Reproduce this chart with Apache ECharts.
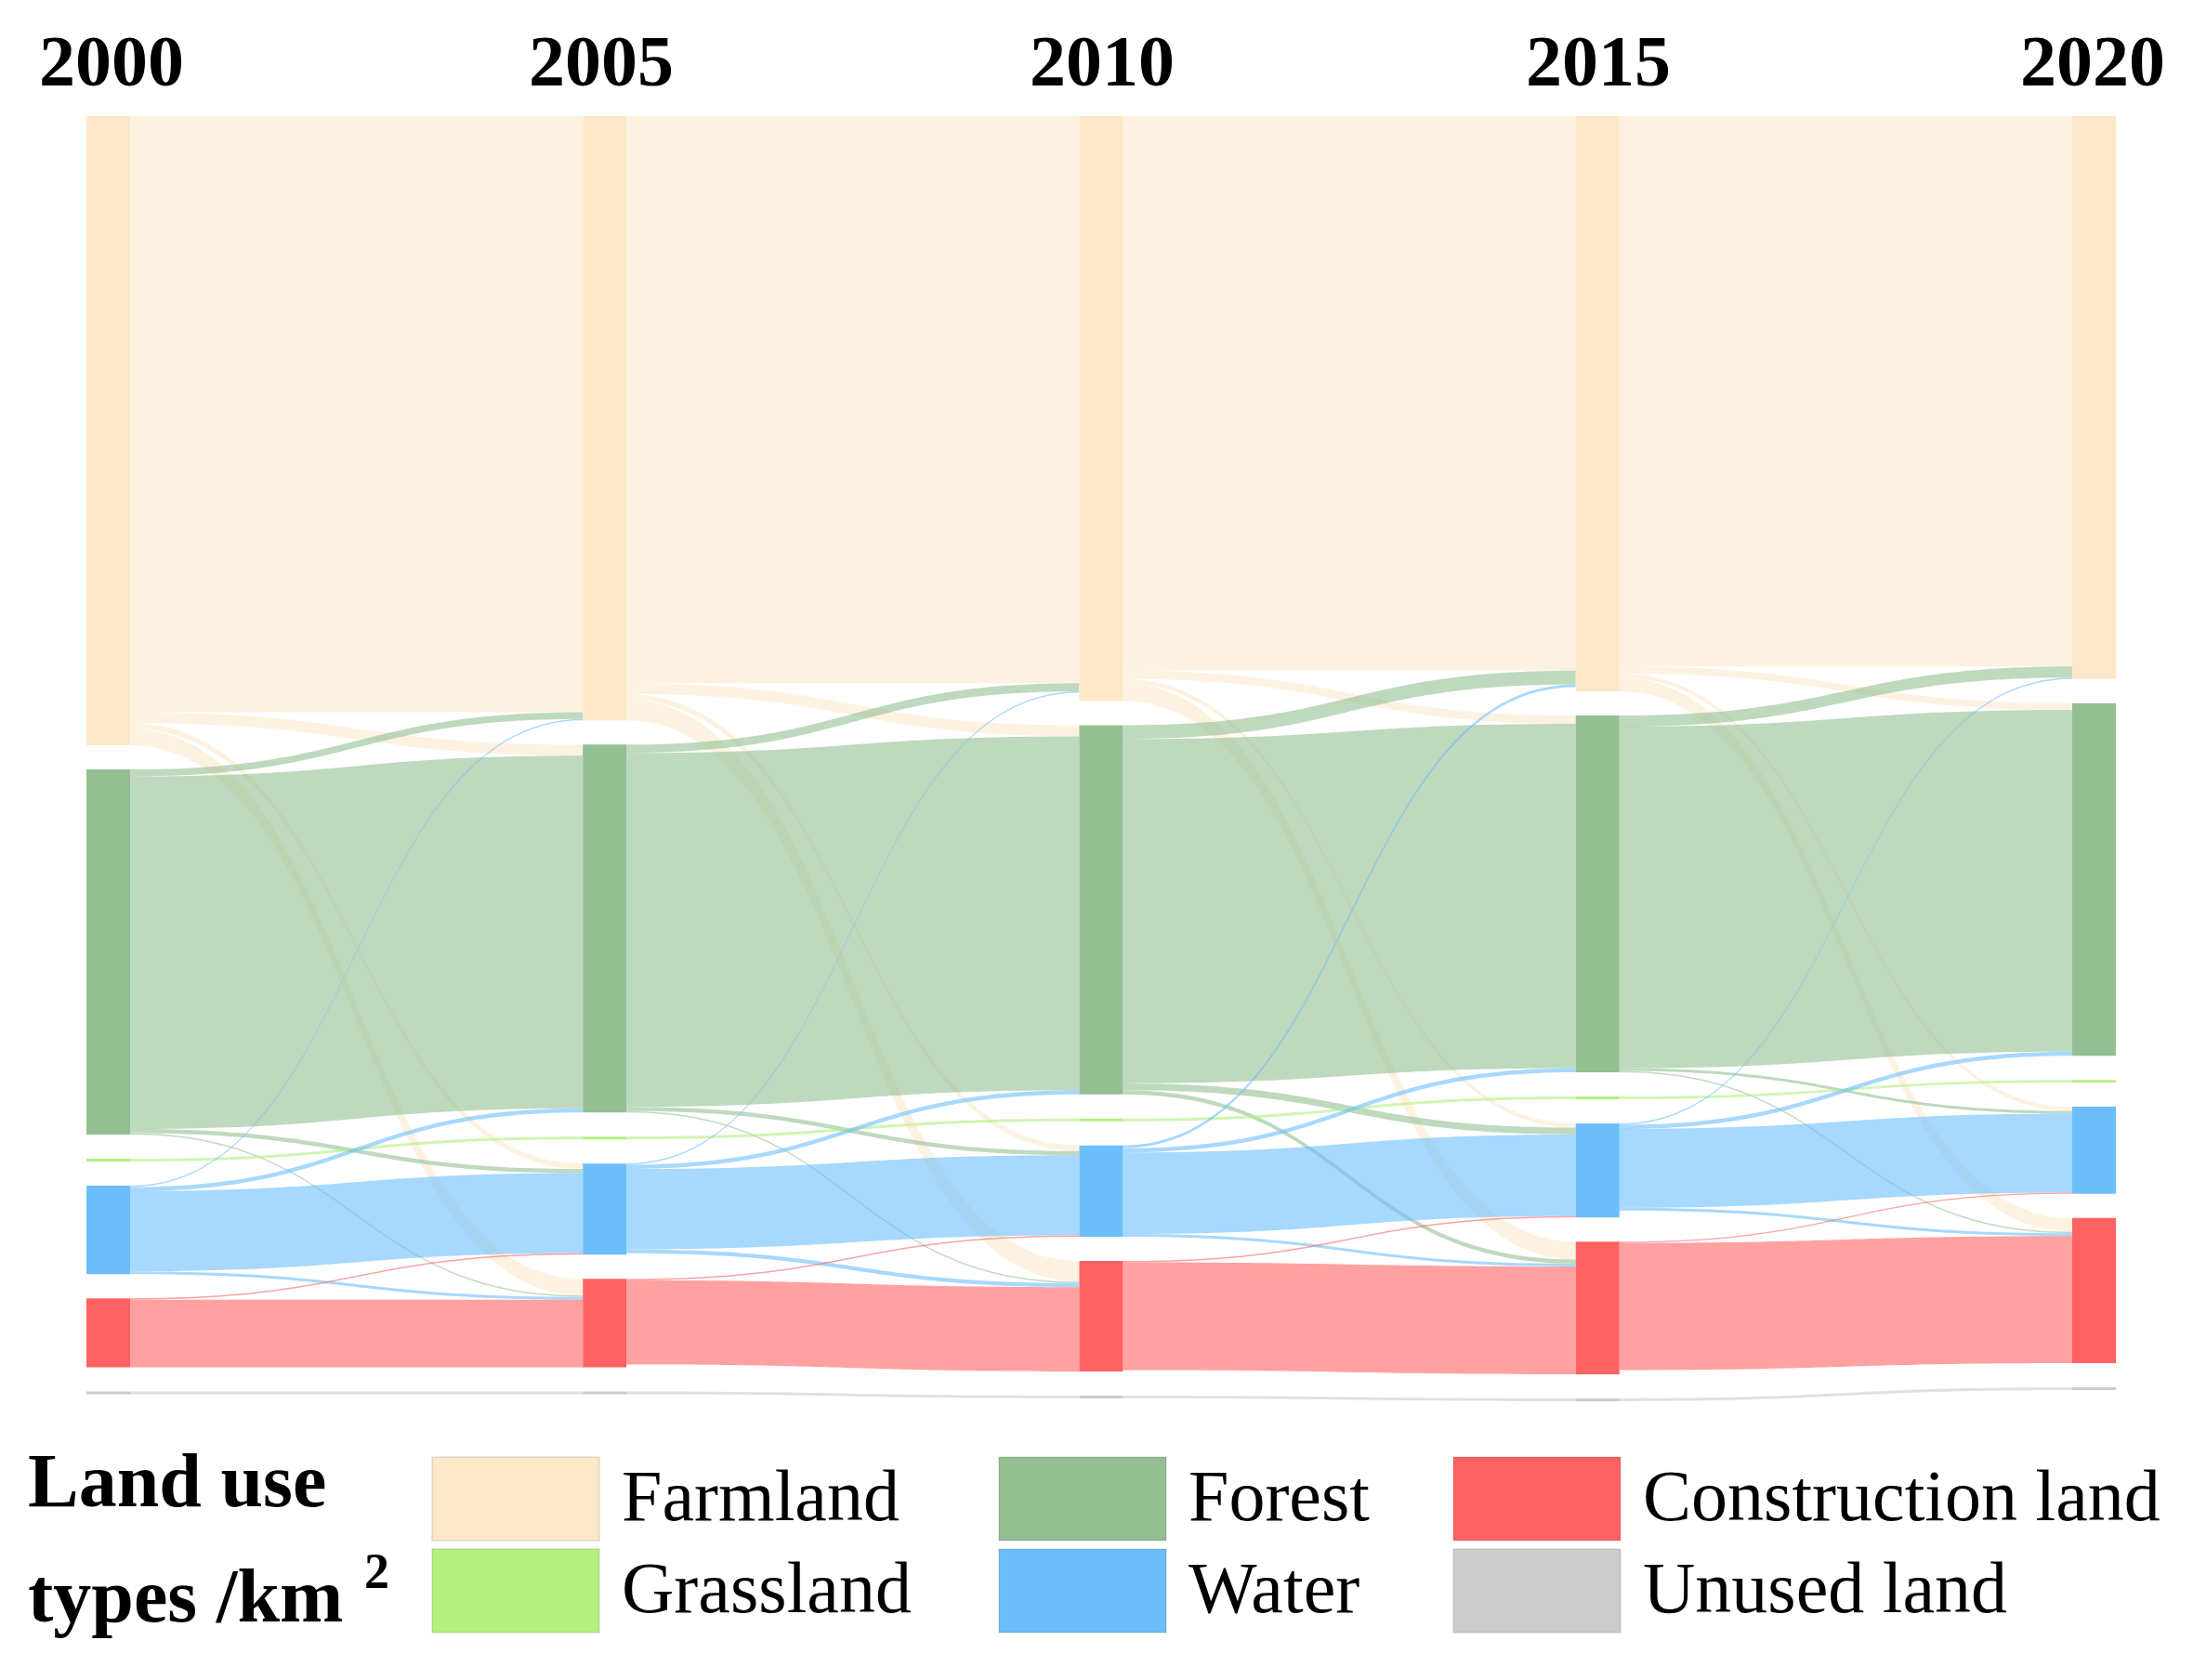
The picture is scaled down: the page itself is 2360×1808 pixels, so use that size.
<!DOCTYPE html>
<html><head><meta charset="utf-8">
<script src="https://cdn.jsdelivr.net/npm/echarts@6/dist/echarts.min.js"></script>
<style>html,body{margin:0;background:#fff}#c{width:2360px;height:1808px}</style>
</head><body><div id="c"></div>
<script>
const years = ['2000','2005','2010','2015','2020'];
const types = ['Farmland','Forest','Grassland','Water','Construction land','Unused land'];
const colors = ['#FCE8C8','#93BF93','#B3F07E','#6CBEFB','#FF6262','#CCCCCC'];
// transitions per period: [from, to, value]
const period1 = [['Farmland','Farmland',431],['Farmland','Forest',8],['Farmland','Water',4],['Farmland','Construction land',12],
 ['Forest','Forest',255],['Forest','Farmland',5],['Forest','Water',3],['Forest','Construction land',1],
 ['Grassland','Grassland',2],['Water','Water',58],['Water','Forest',3],['Water','Farmland',1],['Water','Construction land',2],
 ['Construction land','Construction land',49],['Construction land','Water',1],['Unused land','Unused land',2]];
const period2 = [['Farmland','Farmland',410],['Farmland','Forest',8],['Farmland','Water',4],['Farmland','Construction land',15],
 ['Forest','Forest',256],['Forest','Farmland',6],['Forest','Water',3],['Forest','Construction land',1],
 ['Grassland','Grassland',2],['Water','Water',58],['Water','Forest',3],['Water','Farmland',1],['Water','Construction land',3],
 ['Construction land','Construction land',61],['Construction land','Water',1],['Unused land','Unused land',2]];
const period3 = [['Farmland','Farmland',401],['Farmland','Forest',6],['Farmland','Water',3],['Farmland','Construction land',13],
 ['Forest','Forest',249],['Forest','Farmland',10],['Forest','Water',5],['Forest','Construction land',3],
 ['Grassland','Grassland',2],['Water','Water',59],['Water','Forest',3],['Water','Farmland',2],['Water','Construction land',2],
 ['Construction land','Construction land',78],['Construction land','Water',1],['Unused land','Unused land',2]];
const period4 = [['Farmland','Farmland',398],['Farmland','Forest',5],['Farmland','Water',3],['Farmland','Construction land',10],
 ['Forest','Forest',247],['Forest','Farmland',8],['Forest','Water',2],['Forest','Construction land',1],
 ['Grassland','Grassland',2],['Water','Water',57],['Water','Forest',3],['Water','Farmland',1],['Water','Construction land',2],
 ['Construction land','Construction land',92],['Construction land','Water',1],['Unused land','Unused land',2]];
const periods = [period1, period2, period3, period4];

const nodes = [];
years.forEach((y,yi)=>types.forEach((t,ti)=>nodes.push({name:t+' '+y,depth:yi,itemStyle:{color:colors[ti]}})));
const links = [];
periods.forEach((p,pi)=>p.forEach(([a,b,v])=>{
  const ti = types.indexOf(a);
  links.push({source:a+' '+years[pi],target:b+' '+years[pi+1],value:v,
    lineStyle:{color:colors[ti],opacity:a==='Farmland'?0.55:0.6}});
}));

const chart = echarts.init(document.getElementById('c'));
const serif = '"Liberation Serif","DejaVu Serif",serif';
const g = [];
const yx = [120,647,1186,1720,2252];
years.forEach((y,i)=>g.push({type:'text',x:yx[i],y:72,style:{text:y,font:'bold 78px '+serif,fill:'#000',align:'center',verticalAlign:'middle'}}));
g.push({type:'text',x:30,y:1600,style:{text:'Land use',font:'bold 82px '+serif,fill:'#000',verticalAlign:'middle'}});
g.push({type:'text',x:30,y:1724,style:{text:'types /km',font:'bold 82px '+serif,fill:'#000',verticalAlign:'middle'}});
g.push({type:'text',x:392,y:1695,style:{text:'2',font:'bold 54px '+serif,fill:'#000',verticalAlign:'middle'}});
const leg = [['Farmland',0,0,0],['Grassland',2,0,1],['Forest',1,1,0],['Water',3,1,1],['Construction land',4,2,0],['Unused land',5,2,1]];
const lx=[465,1075,1564], ly=[1568,1667];
leg.forEach(([n,ci,col,row])=>{
  g.push({type:'rect',shape:{x:lx[col],y:ly[row],width:180,height:90},style:{fill:colors[ci],stroke:'rgba(0,0,0,0.08)',lineWidth:2}});
  g.push({type:'text',x:lx[col]+204,y:ly[row]+48,style:{text:n,font:'78px '+serif,fill:'#000',verticalAlign:'middle'}});
});
chart.setOption({
  animation:false,
  graphic:g,
  series:[{type:'sankey',left:93,right:83,top:125,bottom:300,nodeWidth:47,nodeGap:26,
    layoutIterations:0,nodeAlign:'justify',draggable:false,
    label:{show:false},emphasis:{disabled:true},
    lineStyle:{curveness:0.5},
    data:nodes,links:links}]
});
</script></body></html>
